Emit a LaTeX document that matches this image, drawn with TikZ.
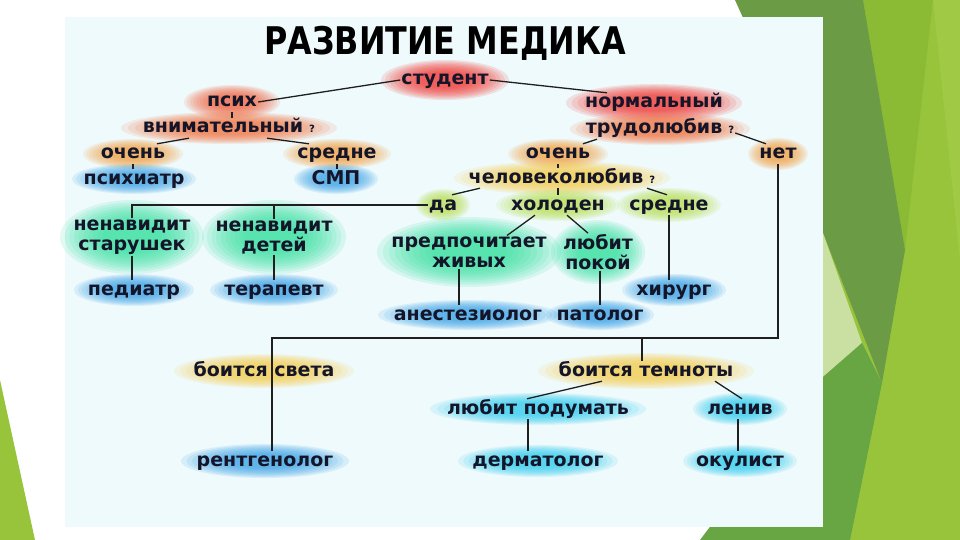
\documentclass[tikz,border=0pt]{standalone}
\usepackage{fontspec}
\setmainfont{DejaVu Sans}
\usetikzlibrary{calc}
\definecolor{imgbg}{HTML}{EFFAFC}
\definecolor{limeA}{HTML}{97C43B}
\definecolor{limeB}{HTML}{8BBA34}
\definecolor{limeC}{HTML}{A0CA45}
\definecolor{dkgreen}{HTML}{6B9B45}
\definecolor{palegreen}{HTML}{CADFA2}
\definecolor{medgreen}{HTML}{67A643}
\definecolor{txt}{HTML}{15152A}
\definecolor{gRed}{HTML}{F0302A}
\definecolor{gOrRed}{HTML}{F2603A}
\definecolor{gOrange}{HTML}{F5A040}
\definecolor{gYellow}{HTML}{F8CC48}
\definecolor{gYG}{HTML}{B8E050}
\definecolor{gTeal}{HTML}{28E09A}
\definecolor{gBlue}{HTML}{34A0E8}
\definecolor{gCyan}{HTML}{2CCCF0}
\pgfdeclarelayer{slide}
\pgfdeclarelayer{glow}
\pgfdeclarelayer{lines}
\pgfsetlayers{slide,glow,lines,main}
\newcommand{\qm}{\hspace{6pt}{\fontsize{10}{10}\selectfont ?}}
\newcommand{\glowat}[4]{%
  \foreach \i in {0,...,9}{%
    \pgfmathsetmacro{\s}{1-0.065*\i}%
    \fill[#2, opacity=0.13] (#1) ellipse [x radius={\s*#3pt}, y radius={\s*#4pt}];}}
\tikzset{
  lbl/.style={font=\bfseries\fontsize{19}{20}\selectfont, text=txt, inner sep=1pt, text height=14pt, text depth=4pt},
  lbl2/.style={font=\bfseries\fontsize{19}{20}\selectfont, text=txt, inner sep=1pt, align=center},
  conn/.style={draw=black!88, line width=1.3pt},
  bigconn/.style={draw=black!88, line width=2.2pt}
}
\begin{document}
\begin{tikzpicture}[x=1pt,y=-1pt]
\useasboundingbox (0,0) rectangle (960,540);
\begin{pgfonlayer}{slide}
\fill[white] (0,0) rectangle (960,540);
\fill[limeA] (823,0) rectangle (960,540);
\fill[limeC] (933,0) -- (960,0) -- (960,260) -- cycle;
\fill[limeB] (863,0) -- (933,0) -- (905,250) -- cycle;
\fill[dkgreen] (735,0) -- (863,0) -- (905,250) -- (882,383) -- (823,233) -- (780,100) -- cycle;
\fill[palegreen] (823,233) -- (862,343) -- (823,377) -- cycle;
\fill[medgreen] (862,343) -- (882,383) -- (850,540) -- (700,540) -- (823,377) -- cycle;
\fill[limeA] (0,380) -- (35,540) -- (0,540) -- cycle;
\fill[imgbg] (65,17) rectangle (823,527);
\end{pgfonlayer}

\node[inner sep=0pt, text height=28pt, text depth=0pt] (title) at (445,41) {\scalebox{1.06}[1.27]{\fontsize{30}{30}\selectfont\bfseries РАЗВИТИЕ МЕДИКА}};

\node[lbl] (stud) at (445,80) {студент};
\node[lbl] (psih) at (232,102) {псих};
\node[lbl] (vnim) at (229,128) {внимательный\qm};
\node[lbl] (och1) at (133,154) {очень};
\node[lbl] (sred1) at (337,154) {средне};
\node[lbl] (psiatr) at (134,179) {психиатр};
\node[lbl] (smp) at (336,179) {СМП};
\node[lbl] (norm) at (654,103) {нормальный};
\node[lbl] (trud) at (660,129) {трудолюбив\qm};
\node[lbl] (net) at (778,154) {нет};
\node[lbl] (och2) at (558,154) {очень};
\node[lbl] (chel) at (562,178) {человеколюбив\qm};
\node[lbl] (da) at (443,205) {да};
\node[lbl] (hol) at (558,205) {холоден};
\node[lbl] (sred2) at (669,205) {средне};
\node[lbl2] (nst) at (132,237) {ненавидит\\старушек};
\node[lbl2] (ndet) at (274,237) {ненавидит\\детей};
\node[lbl2] (pred) at (469,252) {предпочитает\\живых};
\node[lbl2] (lpok) at (598,252) {любит\\покой};
\node[lbl] (ped) at (134,290) {педиатр};
\node[lbl] (ter) at (274,290) {терапевт};
\node[lbl] (hir) at (674,290) {хирург};
\node[lbl] (anest) at (468,315) {анестезиолог};
\node[lbl] (pat) at (600,315) {патолог};
\node[lbl] (bsv) at (264,371) {боится света};
\node[lbl] (btem) at (646,371) {боится темноты};
\node[lbl] (lpod) at (538,409) {любит подумать};
\node[lbl] (len) at (740,409) {ленив};
\node[lbl] (rent) at (265,461) {рентгенолог};
\node[lbl] (derm) at (538,461) {дерматолог};
\node[lbl] (okul) at (740,461) {окулист};

\begin{pgfonlayer}{glow}
\glowat{stud}{gRed}{64}{20}
\glowat{psih}{gOrRed}{48}{17}
\glowat{vnim}{gOrRed!75!gOrange}{108}{16}
\glowat{och1}{gOrange}{50}{15}
\glowat{sred1}{gOrange}{54}{15}
\glowat{psiatr}{gBlue}{62}{15}
\glowat{smp}{gBlue}{42}{15}
\glowat{norm}{gRed}{88}{19}
\glowat{trud}{gOrRed!75!gOrange}{90}{16}
\glowat{net}{gOrange}{30}{16}
\glowat{och2}{gOrange}{50}{15}
\glowat{chel}{gYellow}{108}{17}
\glowat{da}{gYG}{27}{16}
\glowat{hol}{gYG}{62}{16}
\glowat{sred2}{gYG}{52}{17}
\glowat{nst}{gTeal}{72}{37}
\glowat{ndet}{gTeal}{72}{37}
\glowat{pred}{gTeal}{92}{35}
\glowat{lpok}{gTeal}{47}{32}
\glowat{ped}{gBlue}{60}{16}
\glowat{ter}{gBlue}{64}{16}
\glowat{hir}{gBlue}{52}{16}
\glowat{anest}{gBlue}{90}{15}
\glowat{pat}{gBlue}{54}{15}
\glowat{bsv}{gYellow}{90}{17}
\glowat{btem}{gYellow}{108}{18}
\glowat{lpod}{gCyan}{108}{16}
\glowat{len}{gCyan}{47}{16}
\glowat{rent}{gBlue}{84}{17}
\glowat{derm}{gCyan}{80}{16}
\glowat{okul}{gCyan}{57}{16}
\end{pgfonlayer}

\coordinate (jR) at (778,338);
\coordinate (jL) at (272,338);
\begin{pgfonlayer}{lines}
\draw[conn] (stud.west) -- (psih.east);
\draw[conn] (stud.east) -- ([xshift=-47pt]norm.north);
\draw[conn] (psih.south) -- (psih.south |- vnim.north);
\draw[conn] ([xshift=-40pt]vnim.south) -- ([xshift=24pt]och1.north);
\draw[conn] ([xshift=38pt]vnim.south) -- ([xshift=-28pt]sred1.north);
\draw[conn] (och1.south) -- (och1.south |- psiatr.north);
\draw[conn] (sred1.south) -- (sred1.south |- smp.north);
\draw[conn] ([xshift=-63pt]trud.south) -- ([xshift=25pt]och2.north);
\draw[conn] ([yshift=-4pt]trud.east) -- ([xshift=-12pt]net.north);
\draw[conn] (och2.south) -- (och2.south |- chel.north);
\draw[conn] ([xshift=-82pt]chel.south) -- ([xshift=9pt]da.north);
\draw[conn] (hol.north |- chel.south) -- (hol.north);
\draw[conn] ([xshift=85pt]chel.south) -- ([xshift=-2pt]sred2.north);
\draw[conn] (da.west) -| (nst.north);
\draw[conn] (ndet.north |- da.west) -- (ndet.north);
\draw[conn] (nst.south) -- (nst.south |- ped.north);
\draw[conn] (ndet.south) -- (ndet.south |- ter.north);
\draw[conn] ([xshift=-23pt]hol.south) -- ([xshift=38pt]pred.north);
\draw[conn] ([xshift=9pt]hol.south) -- ([xshift=-10pt]lpok.north);
\draw[conn] (sred2.south) -- (sred2.south |- hir.north);
\draw[conn] ([xshift=-10pt]pred.south) -- ([xshift=-10pt]pred.south |- anest.north);
\draw[conn] ([xshift=2pt]lpok.south) -- ([xshift=2pt]lpok.south |- pat.north);
\draw[bigconn] (net.south) -- (jR) -- (jL) -- (jL |- rent.north);
\draw[bigconn] ([xshift=-4pt]btem.north |- jR) -- ([xshift=-4pt]btem.north);
\draw[conn] ([xshift=-44pt]btem.south) -- ([xshift=-11pt]lpod.north);
\draw[conn] ([xshift=69pt]btem.south) -- ([xshift=2pt]len.north);
\draw[conn] ([xshift=-10pt]lpod.south) -- ([xshift=-10pt]lpod.south |- derm.north);
\draw[conn] ([xshift=-2pt]len.south) -- ([xshift=-2pt]len.south |- okul.north);
\end{pgfonlayer}
\end{tikzpicture}
\end{document}
